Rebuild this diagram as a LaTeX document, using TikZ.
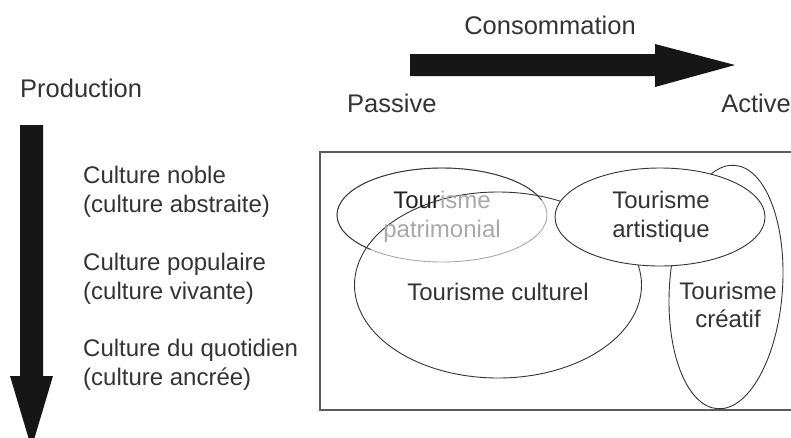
\documentclass[tikz,border=0pt]{standalone}
\usepackage{fontspec}
\setmainfont{Liberation Sans}
\usetikzlibrary{shapes.geometric}
\definecolor{ink}{HTML}{333333}
\definecolor{darkink}{HTML}{222222}
\definecolor{arrowink}{HTML}{161616}
\definecolor{faint}{HTML}{A8A8A8}
\begin{document}
\begin{tikzpicture}[x=1pt,y=-1pt,
  lbl/.style={text=ink,font=\fontsize{24}{28.5}\selectfont,inner sep=0pt},
  axislbl/.style={lbl,font=\fontsize{25.5}{30}\selectfont},
  blob/.style={draw=ink,line width=0.9pt,ellipse,inner sep=0pt},
  bigarrow/.style={fill=arrowink}]
\useasboundingbox (0,0) rectangle (791,437);

% axis arrows
\fill[bigarrow] (410,54) -- (655,54) -- (655,44) -- (735,65) -- (655,87) -- (655,76) -- (410,76) -- cycle;
\fill[bigarrow] (20,125) -- (43,125) -- (43,376) -- (53,376) -- (31.5,448) -- (10,376) -- (20,376) -- cycle;

% axis labels
\node[axislbl] (cons) at (550,25) {Consommation};
\node[axislbl,anchor=west] (prod) at (20,88) {Production};
\node[axislbl,anchor=west] (pass) at (347,103) {Passive};
\node[axislbl,anchor=east] (act) at (791,103) {Active};

% levels of culture
\node[lbl,anchor=west,align=left] (noble) at (83,192) {Culture noble\\(culture abstraite)};
\node[lbl,anchor=west,align=left] (pop) at (83,279) {Culture populaire\\(culture vivante)};
\node[lbl,anchor=west,align=left] (quot) at (83,365) {Culture du quotidien\\(culture ancrée)};

% frame
\draw[draw=ink!80,line width=1.4pt] (320,152) rectangle (795,410);

% forms of tourism
\node[blob,minimum width=113pt,minimum height=244pt,rotate=-4] (creatif) at (726,287) {};
\node[blob,minimum width=287pt,minimum height=186pt] (culturel) at (498,285) {};
\node[blob,fill=white,minimum width=210pt,minimum height=98pt] (artist) at (660,217) {};
\node[blob,draw=faint,minimum width=210pt,minimum height=94pt] (patri) at (442,215) {};
\begin{scope}
  \clip (330,158) -- (528,158) -- (542,200) -- (362,252) -- (330,252) -- cycle;
  \node[blob,minimum width=210pt,minimum height=94pt] at (442,215) {};
\end{scope}

\node[lbl,align=center] (tpat) at (442,217) {\textcolor{darkink}{Tour}\textcolor{faint}{isme}\\\textcolor{faint}{patrimonial}};
\node[lbl,align=center] (tart) at (661,217) {Tourisme\\artistique};
\node[lbl] (tcul) at (498,292) {Tourisme culturel};
\node[lbl,align=center] (tcre) at (728,305) {Tourisme\\créatif};
\end{tikzpicture}
\end{document}
